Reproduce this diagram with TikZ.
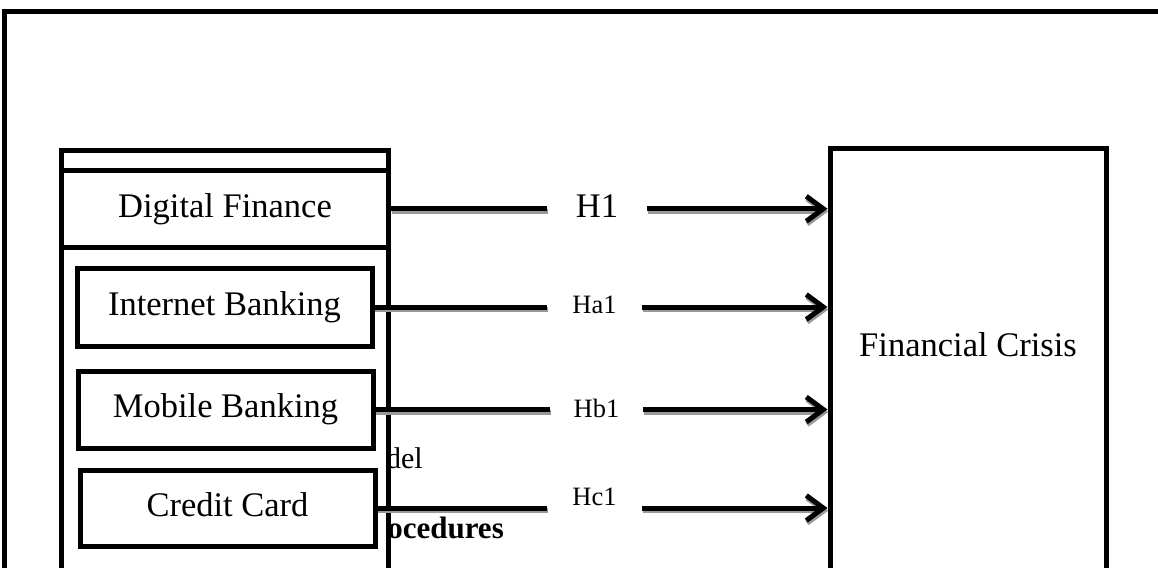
\documentclass[tikz,border=0pt]{standalone}
\usepackage{fontspec}
\setmainfont{Liberation Serif}
\usetikzlibrary{arrows.meta}
\begin{document}
\begin{tikzpicture}[x=1pt,y=-1pt,
  box/.style={draw, line width=5pt, fill=white, inner sep=0pt},
  big/.style={font=\fontsize{34.5pt}{40pt}\selectfont, text height=24pt, text depth=7.5pt},
  lab/.style={inner sep=0pt, font=\fontsize{26.5pt}{30pt}\selectfont},
  seg/.style={line width=5pt, preaction={draw=black!40, line width=5pt, transform canvas={shift={(0.8pt,-2.6pt)}}}},
  arr/.style={seg, -{Straight Barb[length=17pt,width=25pt]}},
  part/.style={inner sep=0pt, anchor=base east}
]
\useasboundingbox (0,0) rectangle (1158,567);
\clip (0,0) rectangle (1158,567);
\draw[line width=5pt] (4,12) rectangle (1200,620);
% partially hidden text
\node[part, font=\fontsize{30pt}{34pt}\selectfont] (model) at (423,468) {del};
\node[part, font=\bfseries\fontsize{31pt}{36pt}\selectfont] (proc) at (504,538) {ocedures};
% left column
\node[box, minimum width=326.6pt, minimum height=499.5pt] (leftbox) at (225,400.25) {};
\node[box, big, minimum width=326.6pt, minimum height=77.5pt] (df) at (225,208.75) {Digital Finance};
\node[box, big, minimum width=295pt, minimum height=78pt] (ib) at (224.5,307) {Internet Banking};
\node[box, big, minimum width=295pt, minimum height=77pt] (mb) at (225.5,409.5) {Mobile Banking};
\node[box, big, minimum width=295pt, minimum height=76pt] (cc) at (227.5,508) {Credit Card};
% right box
\node[box, minimum width=276pt, minimum height=502pt] (fc) at (968,399) {};
\node[big, inner sep=0pt] (fclabel) at (968,348) {Financial Crisis};
% labels
\node[lab, font=\fontsize{34.5pt}{40pt}\selectfont, minimum width=100pt] (h1) at (597,206) {H1};
\node[lab, minimum width=95pt] (ha1) at (594.5,304.5) {Ha1};
\node[lab, minimum width=93pt] (hb1) at (596.5,408.6) {Hb1};
\node[lab, minimum width=95pt] (hc1) at (594.5,497) {Hc1};
% connectors
\draw[seg] (df.east) -- (df.east -| h1.west);
\draw[arr] (df.east -| h1.east) -- (df.east -| fc.west);
\draw[seg] (ib.east) -- (ib.east -| ha1.west);
\draw[arr] (ib.east -| ha1.east) -- (ib.east -| fc.west);
\draw[seg] (mb.east) -- (mb.east -| hb1.west);
\draw[arr] (mb.east -| hb1.east) -- (mb.east -| fc.west);
\draw[seg] (cc.east) -- (cc.east -| hc1.west);
\draw[arr] (cc.east -| hc1.east) -- (cc.east -| fc.west);
\end{tikzpicture}
\end{document}
